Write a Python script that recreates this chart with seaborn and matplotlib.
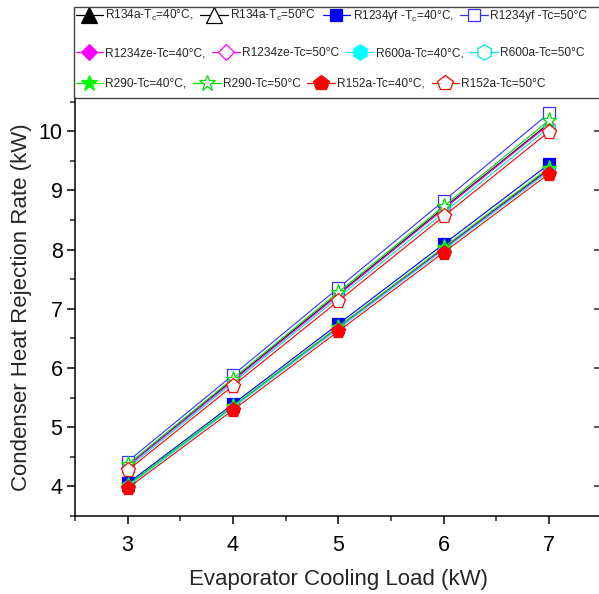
import numpy as np
import pandas as pd
import matplotlib
matplotlib.use("Agg")
import matplotlib.pyplot as plt
from matplotlib.lines import Line2D
from matplotlib.patches import Rectangle
from matplotlib.ticker import MultipleLocator
import seaborn as sns

# ---------------- data ----------------
load = [3, 4, 5, 6, 7]

r134a_40 = [4.02, 5.35, 6.69, 8.02, 9.36]
r134a_50 = [4.35, 5.80, 7.25, 8.70, 10.13]
r1234yf_40 = [4.05, 5.39, 6.74, 8.09, 9.44]
r1234yf_50 = [4.42, 5.88, 7.35, 8.82, 10.30]
r1234ze_40 = [4.01, 5.34, 6.68, 8.01, 9.34]
r1234ze_50 = [4.34, 5.78, 7.23, 8.68, 10.11]
r600a_40 = [4.00, 5.33, 6.66, 7.99, 9.32]
r600a_50 = [4.31, 5.75, 7.19, 8.62, 10.06]
r290_40 = [4.02, 5.36, 6.70, 8.04, 9.38]
r290_50 = [4.37, 5.82, 7.28, 8.73, 10.18]
r152a_40 = [3.97, 5.29, 6.62, 7.95, 9.28]
r152a_50 = [4.27, 5.70, 7.13, 8.56, 9.99]

labels = [
    r"R134a-T$_\mathrm{c}$=40°C,", r"R134a-T$_\mathrm{c}$=50°C",
    r"R1234yf -T$_\mathrm{c}$=40°C,", "R1234yf -Tc=50°C",
    "R1234ze-Tc=40°C,", "R1234ze-Tc=50°C",
    "R600a-Tc=40°C,", "R600a-Tc=50°C",
    "R290-Tc=40°C,", "R290-Tc=50°C",
    "R152a-Tc=40°C,", "R152a-Tc=50°C",
]
values = [r134a_40, r134a_50, r1234yf_40, r1234yf_50, r1234ze_40, r1234ze_50,
          r600a_40, r600a_50, r290_40, r290_50, r152a_40, r152a_50]

# styles: (color, marker, filled, plot markersize, legend markersize)
styles = [
    ("#000000", "^", True, 8, 11), ("#000000", "^", False, 8, 11),
    ("#0000FF", "s", True, 8, 8.5), ("#3333FF", "s", False, 8, 8.5),
    ("#FF00FF", "D", True, 6, 7.8), ("#FF00FF", "D", False, 6, 7.8),
    ("#00FFFF", "h", True, 9, 11), ("#00E5E5", "h", False, 9, 11),
    ("#00FF00", "*", True, 11, 12), ("#00DD00", "*", False, 11, 12),
    ("#FF0000", "p", True, 11, 11.5), ("#FF0000", "p", False, 11, 11.5),
]

df = pd.DataFrame(
    [(lab, x, y) for lab, vals in zip(labels, values) for x, y in zip(load, vals)],
    columns=["series", "load", "Q"],
)

# ---------------- style ----------------
sns.set_theme(style="ticks")
plt.rcParams["font.family"] = ["Liberation Sans", "DejaVu Sans"]
plt.rcParams["mathtext.fontset"] = "custom"
plt.rcParams["mathtext.rm"] = "Liberation Sans"
plt.rcParams["mathtext.it"] = "Liberation Sans:italic"
plt.rcParams["mathtext.bf"] = "Liberation Sans:bold"

W, H = 599, 594
fig = plt.figure(figsize=(W / 100, H / 100), dpi=100)
ax = fig.add_axes([75 / W, 1 - 516 / H, (601.5 - 75) / W, (516 - 98) / H])

for i, (lab, (col, mk, filled, ms, _)) in enumerate(zip(labels, styles)):
    sub = df[df["series"] == lab]
    sns.lineplot(
        data=sub, x="load", y="Q", ax=ax, color=col, linewidth=0.8,
        marker=mk, markersize=ms,
        markerfacecolor=col if filled else "white",
        markeredgecolor=col, markeredgewidth=0.9,
        legend=False, zorder=3 + i,
    )

ax.set_xlim(2.5, 7.5)
ax.set_ylim(3.5, 10.56)
ax.xaxis.set_major_locator(MultipleLocator(1))
ax.xaxis.set_minor_locator(MultipleLocator(0.5))
ax.yaxis.set_major_locator(MultipleLocator(1))
ax.yaxis.set_minor_locator(MultipleLocator(0.5))
ax.tick_params(axis="both", which="major", direction="out", length=6, width=1.1,
               labelsize=15.5, colors="black", pad=3)
ax.tick_params(axis="x", which="major", pad=8)
ax.tick_params(axis="both", which="minor", direction="out", length=3.5, width=1.1)
ax.spines["top"].set_visible(False)
ax.spines["right"].set_visible(False)
for s in ["left", "bottom"]:
    ax.spines[s].set_linewidth(1.1)
    ax.spines[s].set_color("black")

ax.set_xlabel("Evaporator Cooling Load (kW)", fontsize=16, labelpad=9)
ax.set_ylabel("Condenser Heat Rejection Rate (kW)", fontsize=16, labelpad=5)

# right-side inward ticks
axr = ax.twinx()
axr.set_ylim(ax.get_ylim())
axr.yaxis.set_major_locator(MultipleLocator(1))
axr.yaxis.set_minor_locator(MultipleLocator(0.5))
axr.tick_params(axis="y", which="major", direction="in", length=6, width=1.1, labelright=False)
axr.tick_params(axis="y", which="minor", direction="in", length=2.5, width=1.1)
for s in ["top", "left", "bottom", "right"]:
    axr.spines[s].set_visible(False)

# ---------------- legend box with three rows ----------------
fig.patches.append(Rectangle((74 / W, 1 - 98 / H), 540 / W, 91 / H,
                             transform=fig.transFigure, fill=False,
                             edgecolor="#444444", linewidth=1.0, zorder=10))

def handle(col, mk, filled, lms):
    return Line2D([0], [0], color=col, linewidth=0.9, marker=mk, markersize=lms,
                  markerfacecolor=col if filled else "white",
                  markeredgecolor=col, markeredgewidth=0.9)

handles = [handle(c, m, f, lms) for (c, m, f, _, lms) in styles]
row_y = [16, 53, 84]
for r in range(3):
    hs = handles[4 * r:4 * r + 4]
    ls = labels[4 * r:4 * r + 4]
    fig.legend(hs, ls, loc="center left", bbox_to_anchor=(75.5 / W, 1 - row_y[r] / H),
               ncol=4, frameon=False, borderpad=0, borderaxespad=0,
               handlelength=2.3, handletextpad=0.2, columnspacing=0.55,
               numpoints=1, prop={"family": "Liberation Sans", "size": 8.6})

fig.savefig("out.png", dpi=100)
